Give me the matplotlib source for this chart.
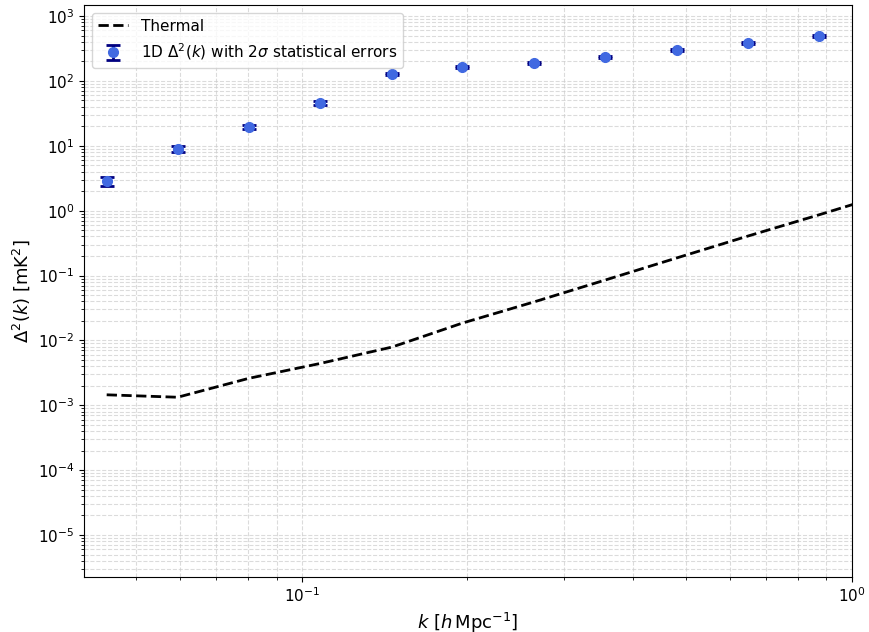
import numpy as np
import matplotlib
matplotlib.use("Agg")
import matplotlib.pyplot as plt

# power spectrum points
k = np.array([0.0442, 0.0595, 0.0801, 0.1079, 0.146, 0.196, 0.264, 0.356, 0.481, 0.647, 0.871])
delta2 = np.array([2.85, 8.9, 19.5, 45.5, 128, 164, 189, 233, 299, 384, 492])
err = np.array([0.45, 0.95, 1.6, 3.0, 6, 7, 7, 8, 10, 13, 16])

# thermal noise
k_th = np.array([0.0442, 0.0595, 0.0801, 0.1079, 0.146, 0.196, 0.264, 0.356, 0.481, 0.647, 0.871, 1.17])
thermal = np.array([1.45e-3, 1.33e-3, 2.6e-3, 4.4e-3, 7.9e-3, 1.85e-2, 3.9e-2, 8.5e-2, 0.187, 0.405, 0.86, 1.85])

fig = plt.figure(figsize=(8.69, 6.32), dpi=100)
ax = fig.add_axes([0.0967, 0.087, 0.8833, 0.905])

ax.plot(k_th, thermal, 'k--', lw=2, label='Thermal')
ax.errorbar(k, delta2, yerr=err, fmt='o', color='royalblue', ecolor='navy',
            elinewidth=2, capsize=5, capthick=2, markersize=7,
            label=r'1D $\Delta^2(k)$ with $2\sigma$ statistical errors')

ax.set_xscale('log')
ax.set_yscale('log')
ax.set_xlim(0.0402, 1.0)
ax.set_ylim(2.25e-6, 1.48e3)
ax.grid(True, which='both', ls='--', color='#cccccc', alpha=0.7)
ax.tick_params(labelsize=11)
ax.set_xlabel(r'$k\ [h\,\mathrm{Mpc}^{-1}]$', fontsize=13)
ax.set_ylabel(r'$\Delta^2(k)\ [\mathrm{mK}^2]$', fontsize=13)
ax.legend(loc='upper left', fontsize=11)

fig.savefig('out.png', dpi=100)
